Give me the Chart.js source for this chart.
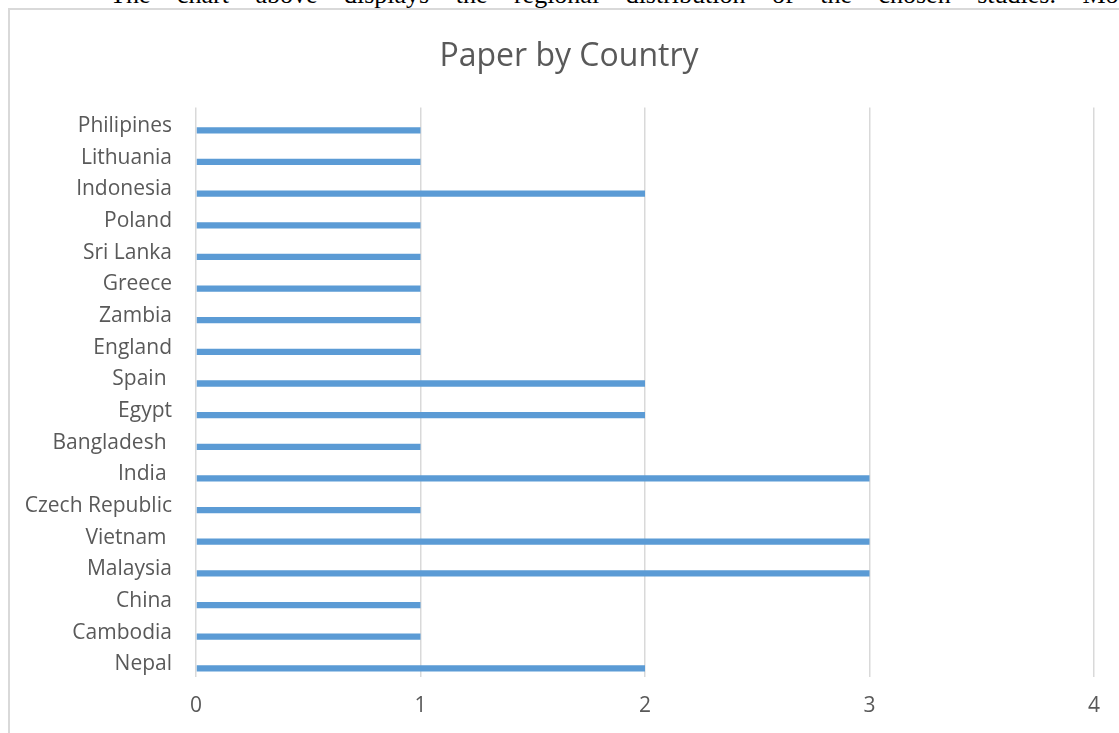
<!DOCTYPE html>
<html>
<head>
<meta charset="utf-8">
<script src="https://cdn.jsdelivr.net/npm/chart.js@4"></script>
<style>
  html, body { margin: 0; padding: 0; background: #fff; overflow: hidden; }
  #wrap { position: relative; width: 1119px; height: 733px; }
  #frame { position: absolute; left: 8px; top: 8px; width: 1200px; height: 800px;
           border-left: 2px solid #d9d9d9; border-top: 2px solid #d9d9d9; }
  #para { position: absolute; left: 110px; top: -19px; white-space: nowrap;
          font: 26px "Liberation Serif", serif; line-height: 28px; word-spacing: 20px; color: #000; }
  #c { position: absolute; left: 0; top: 0; }
</style>
</head>
<body>
<div id="wrap">
  <div id="para">The chart above displays the regional distribution of the chosen studies. Most</div>
  <div id="frame"></div>
  <canvas id="c" width="1119" height="733"></canvas>
</div>
<script>
// categories listed top to bottom as in the picture
const countries = ['Philipines', 'Lithuania', 'Indonesia', 'Poland', 'Sri Lanka', 'Greece',
  'Zambia', 'England', 'Spain ', 'Egypt', 'Bangladesh ', 'India ', 'Czech Republic',
  'Vietnam ', 'Malaysia', 'China', 'Cambodia', 'Nepal'];
const papers = [1, 1, 2, 1, 1, 1, 1, 1, 2, 2, 1, 3, 1, 3, 3, 1, 1, 2];
const xTicks = [0, 1, 2, 3, 4];

const textColor = '#595959';
const gridColor = '#d9d9d9';
const font = 'Open Sans';

// labels are clipped to the axis box, so widen it after layout
const widenYAxis = {
  id: 'widenYAxis',
  afterLayout(chart) { chart.scales.y.left = 0; }
};

const config = {
  type: 'bar',
  data: {
    labels: countries,
    datasets: [
      // empty placeholder series, keeps the excel-like offset of the bars
      { label: '', data: [], backgroundColor: 'rgba(0,0,0,0)' },
      { label: 'Papers', data: papers, backgroundColor: '#5b9bd5', borderWidth: 0 }
    ]
  },
  options: {
    indexAxis: 'y',
    responsive: false,
    animation: false,
    categoryPercentage: 0.9,
    barPercentage: 0.44,
    layout: { padding: { left: 44, right: 25, top: 30, bottom: 0 } },
    plugins: {
      legend: { display: false },
      tooltip: { enabled: false },
      title: {
        display: true,
        text: 'Paper by Country',
        color: textColor,
        font: { family: font, size: 32, weight: 'normal' },
        padding: { top: 8, bottom: 31 }
      }
    },
    scales: {
      x: {
        min: 0,
        max: 4,
        afterBuildTicks: (axis) => { axis.ticks = xTicks.map(v => ({ value: v })); },
        grid: { color: gridColor, lineWidth: 1.5, drawTicks: false },
        border: { display: false },
        ticks: { color: textColor, font: { family: font, size: 21 }, padding: 16 },
        afterFit: (axis) => { axis.height = 56; }
      },
      y: {
        grid: { display: false, drawTicks: false },
        border: { display: false },
        ticks: { color: textColor, font: { family: font, size: 21 }, padding: 24, labelOffset: 3, autoSkip: false },
        afterFit: (axis) => { axis.width = 152; }
      }
    }
  },
  plugins: [widenYAxis]
};

var ctx = document.getElementById('c').getContext('2d');
var chart = new Chart(ctx, config);
</script>
</body>
</html>
